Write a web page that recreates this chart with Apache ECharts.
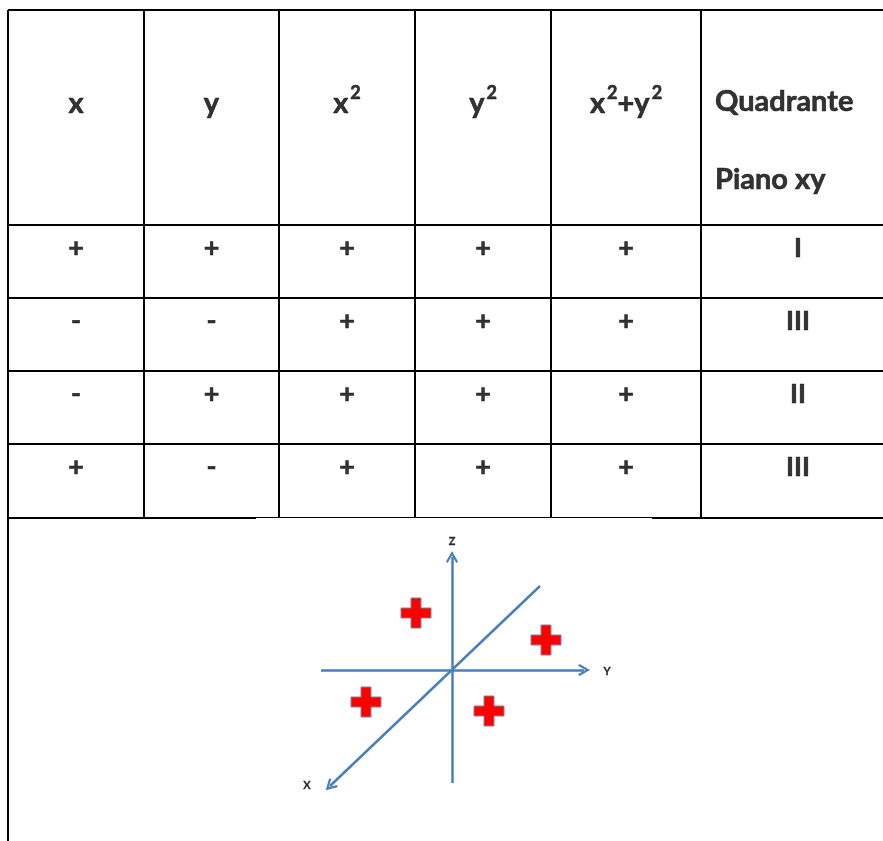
<!DOCTYPE html>
<html>
<head>
<meta charset="utf-8">
<script src="https://cdn.jsdelivr.net/npm/echarts@6/dist/echarts.min.js"></script>
<style>
  html, body { margin: 0; padding: 0; background: #fff; }
  #main { width: 883px; height: 841px; }
</style>
</head>
<body>
<div id="main"></div>
<script>
// intestazioni della tabella (rich text per gli esponenti)
var headers = ['{b|x}', '{b|y}', '{b|x}{s|2}', '{b|y}{s|2}', '{b|x}{s|2}{b|+y}{s|2}', '{b|Quadrante}\n{b|Piano xy}'];

// segni per colonna
var colX = ['+', '-', '-', '+'];
var colY = ['+', '-', '+', '-'];
var colX2 = ['+', '+', '+', '+'];
var colY2 = ['+', '+', '+', '+'];
var colSum = ['+', '+', '+', '+'];
var quadrante = ['I', 'III', 'II', 'III'];

// schema: assi (coordinate del disegno, origine al centro) e croci rosse
var axisZ = [[0, -113], [0, 113]];
var axisY = [[-131, 0], [132, 0]];
var axisX = [[88, 84], [-122, -116]];
var crosses = [[-36, 57], [94, 30], [-86, -32], [37, -41]];
var axisNames = ['Z', 'Y', 'X'];
var axisNamePos = [[0, 129], [155, -1], [-145, -115]];

// layout della tabella (pixel)
var colEdges = [8, 144, 279, 415, 551, 701, 895];
var rowEdges = [10, 225, 298, 371, 444, 518];
var tableRight = 883;
var FONT = 'Lato';

var columns = [colX, colY, colX2, colY2, colSum, quadrante];

var myChart = echarts.init(document.getElementById('main'), null, { renderer: 'canvas' });

// linee della tabella
var tableLines = [];
tableLines.push({ coords: [[colEdges[0], rowEdges[0]], [tableRight, rowEdges[0]]] });
tableLines.push({ coords: [[colEdges[0], rowEdges[0]], [colEdges[0], 841]] });
for (var c = 1; c < 6; c++) {
  tableLines.push({ coords: [[colEdges[c], rowEdges[0]], [colEdges[c], rowEdges[5]]] });
}
for (var r = 1; r < 5; r++) {
  tableLines.push({ coords: [[colEdges[0], rowEdges[r]], [tableRight, rowEdges[r]]] });
}
// ultima riga: tratto centrale più sottile
tableLines.push({ coords: [[colEdges[0], rowEdges[5]], [256, rowEdges[5]]] });
tableLines.push({ coords: [[652, rowEdges[5]], [tableRight, rowEdges[5]]] });
tableLines.push({ coords: [[256, rowEdges[5] - 1], [652, rowEdges[5] - 1]], lineStyle: { width: 1.2 } });

function colCenter(i) {
  return (colEdges[i] + colEdges[i + 1]) / 2;
}

// intestazioni
var headerData = headers.map(function (h, i) {
  if (i === 5) {
    return {
      value: [715, 141],
      label: { formatter: h, position: 'right', distance: 0 }
    };
  }
  return { value: [colCenter(i), 104], label: { formatter: h } };
});

// celle
var cellData = [];
columns.forEach(function (col, i) {
  col.forEach(function (v, r) {
    cellData.push({ value: [colCenter(i), rowEdges[r + 1] + 23], label: { formatter: v } });
  });
});

var arrowPath = 'path://M50,0 L100,80 L86,92 L50,34 L14,92 L0,80 Z';
var axisColor = '#4a7ebb';
// tratto un po' più pesante, come il Calibri grassetto
var heavy = { textBorderColor: '#000', textBorderWidth: 0.6 };

var option = {
  backgroundColor: '#fff',
  animation: false,
  grid: [
    { left: 0, top: 0, width: 883, height: 841 },
    { left: 302, top: 540, width: 310, height: 260 }
  ],
  xAxis: [
    { type: 'value', gridIndex: 0, min: 0, max: 883, show: false },
    { type: 'value', gridIndex: 1, min: -150, max: 160, show: false }
  ],
  yAxis: [
    { type: 'value', gridIndex: 0, min: 0, max: 841, inverse: true, show: false },
    { type: 'value', gridIndex: 1, min: -130, max: 130, show: false }
  ],
  series: [
    {
      type: 'lines',
      coordinateSystem: 'cartesian2d',
      xAxisIndex: 0,
      yAxisIndex: 0,
      symbol: 'none',
      lineStyle: { color: '#000', width: 2, opacity: 1 },
      data: tableLines
    },
    {
      type: 'scatter',
      xAxisIndex: 0,
      yAxisIndex: 0,
      symbolSize: 0,
      label: {
        show: true,
        position: 'inside',
        color: '#000',
        lineHeight: 78,
        rich: {
          b: Object.assign({ fontFamily: FONT, fontWeight: 'bold', fontSize: 29, color: '#000', lineHeight: 78 }, heavy),
          s: Object.assign({ fontFamily: FONT, fontWeight: 'bold', fontSize: 18, color: '#000', padding: [0, 0, 22, 2] }, heavy)
        }
      },
      data: headerData
    },
    {
      type: 'scatter',
      xAxisIndex: 0,
      yAxisIndex: 0,
      symbolSize: 0,
      label: Object.assign({
        show: true,
        position: 'inside',
        color: '#000',
        fontFamily: FONT,
        fontWeight: 'bold',
        fontSize: 27
      }, heavy),
      data: cellData
    },
    {
      type: 'lines',
      coordinateSystem: 'cartesian2d',
      xAxisIndex: 1,
      yAxisIndex: 1,
      symbol: ['none', arrowPath],
      symbolSize: 12,
      lineStyle: { color: axisColor, width: 2.5, opacity: 1 },
      itemStyle: { color: axisColor },
      data: [
        { coords: axisZ },
        { coords: axisY },
        { coords: axisX }
      ]
    },
    {
      type: 'scatter',
      xAxisIndex: 1,
      yAxisIndex: 1,
      symbol: 'path://M10,0 H20 V10 H30 V20 H20 V30 H10 V20 H0 V10 H10 Z',
      symbolSize: 30,
      itemStyle: { color: '#ff0000', borderColor: '#8a7f9a', borderWidth: 1, opacity: 1 },
      data: crosses
    },
    {
      type: 'scatter',
      xAxisIndex: 1,
      yAxisIndex: 1,
      symbolSize: 0,
      label: Object.assign({
        show: true,
        position: 'inside',
        formatter: function (p) { return p.name; },
        color: '#000',
        fontFamily: FONT,
        fontWeight: 'bold',
        fontSize: 11
      }, { textBorderColor: '#000', textBorderWidth: 0.3 }),
      data: axisNames.map(function (n, i) {
        return { name: n, value: axisNamePos[i] };
      })
    }
  ]
};

myChart.setOption(option);
</script>
</body>
</html>
